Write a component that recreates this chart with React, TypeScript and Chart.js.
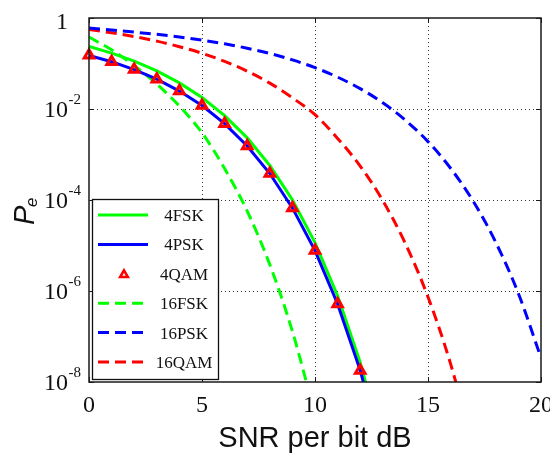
import React, { useEffect, useRef } from "react";
import { Chart, registerables } from "chart.js";

Chart.register(...registerables);

// SNR per bit (dB) sample points
const snr4 = [0, 1, 2, 3, 4, 5, 6, 7, 8, 9, 10, 11, 12, 13];
const snr4qam = [0, 1, 2, 3, 4, 5, 6, 7, 8, 9, 10, 11, 12];
const snr16fsk = [0, 1, 2, 3, 4, 5, 6, 7, 8, 9, 10];
const snr16psk = [0, 1, 2, 3, 4, 5, 6, 7, 8, 9, 10, 11, 12, 13, 14, 15, 16, 17, 18, 19, 20];
const snr16qam = [0, 1, 2, 3, 4, 5, 6, 7, 8, 9, 10, 11, 12, 13, 14, 15, 16, 17];

// symbol error probabilities
const pe4fsk = [0.236, 0.169, 0.1125, 0.0687, 0.0375, 0.0179, 0.00717, 0.00232, 5.73e-4, 1.01e-4, 1.16e-5, 7.8e-7, 2.7e-8, 4.0e-10];
const pe4psk = [0.151, 0.1095, 0.0736, 0.0453, 0.0248, 0.0119, 0.00477, 0.00154, 3.82e-4, 6.7e-5, 7.74e-6, 5.2e-7, 1.8e-8, 2.66e-10];
const pe4qam = [0.151, 0.1095, 0.0736, 0.0453, 0.0248, 0.0119, 0.00477, 0.00154, 3.82e-4, 6.7e-5, 7.74e-6, 5.2e-7, 1.8e-8];
const pe16fsk = [0.38, 0.2, 0.09, 0.0354, 0.0116, 0.003, 4.9e-4, 5.7e-5, 3.8e-6, 1.3e-7, 1.9e-9];
const pe16psk = [0.6, 0.545, 0.49, 0.437, 0.382, 0.327, 0.271, 0.2166, 0.1658, 0.12, 0.081, 0.0502, 0.028, 0.0137, 0.00568, 0.00192, 4.98e-4, 9.4e-5, 1.17e-5, 8.8e-7, 3.4e-8];
const pe16qam = [0.557, 0.473, 0.39, 0.31, 0.234, 0.168, 0.1115, 0.0679, 0.037, 0.0176, 0.0075, 0.00226, 5.55e-4, 9.7e-5, 1.1e-5, 7.4e-7, 2.5e-8, 3.6e-10];

const seriesLabels = ["4FSK", "4PSK", "4QAM", "16FSK", "16PSK", "16QAM"];

// axis ticks
const xTickValues = [0, 5, 10, 15, 20];
const yTickExponents = [0, -2, -4, -6, -8];
const xTitle = "SNR per bit dB";
const yTitleMain = "P";
const yTitleSub = "e";

const GREEN = "#00ff00";
const BLUE = "#0000ff";
const RED = "#ff0000";
const SERIF = '"Liberation Serif", "Times New Roman", serif';
const SANS = '"Liberation Sans", Arial, sans-serif';
const DASH = [11, 6];

function pts(xs: number[], ys: number[]) {
  return ys.map((y, i) => ({ x: xs[i], y }));
}

function triangle(ctx: CanvasRenderingContext2D, x: number, y: number, r: number) {
  ctx.beginPath();
  for (let k = 0; k < 3; k++) {
    const a = (k * 2 * Math.PI) / 3;
    const px = x + Math.sin(a) * r;
    const py = y - Math.cos(a) * r;
    if (k === 0) ctx.moveTo(px, py);
    else ctx.lineTo(px, py);
  }
  ctx.closePath();
}

const decorPlugin = {
  id: "decor",
  beforeDatasetsDraw(chart: any) {
    const { ctx, chartArea: a, scales } = chart;
    const xs = scales.x;
    const ys = scales.y;
    ctx.save();
    ctx.strokeStyle = "#333";
    ctx.lineWidth = 1;
    ctx.setLineDash([1, 3]);
    xTickValues.slice(1, -1).forEach((v) => {
      const px = Math.round(xs.getPixelForValue(v)) + 0.5;
      ctx.beginPath();
      ctx.moveTo(px, a.top);
      ctx.lineTo(px, a.bottom);
      ctx.stroke();
    });
    yTickExponents.slice(1, -1).forEach((e) => {
      const py = Math.round(ys.getPixelForValue(Math.pow(10, e))) + 0.5;
      ctx.beginPath();
      ctx.moveTo(a.left, py);
      ctx.lineTo(a.right, py);
      ctx.stroke();
    });
    ctx.restore();
  },
  afterDatasetsDraw(chart: any) {
    const { ctx, chartArea: a, scales } = chart;
    const xs = scales.x;
    const ys = scales.y;
    ctx.save();
    ctx.setLineDash([]);

    // frame
    ctx.strokeStyle = "#1a1a1a";
    ctx.lineWidth = 1.5;
    ctx.strokeRect(a.left, a.top, a.right - a.left, a.bottom - a.top);

    // tick marks (inside)
    ctx.lineWidth = 1;
    const tl = 5;
    xTickValues.forEach((v) => {
      const px = Math.round(xs.getPixelForValue(v)) + 0.5;
      ctx.beginPath();
      ctx.moveTo(px, a.bottom);
      ctx.lineTo(px, a.bottom - tl);
      ctx.moveTo(px, a.top);
      ctx.lineTo(px, a.top + tl);
      ctx.stroke();
    });
    yTickExponents.forEach((e) => {
      const py = Math.round(ys.getPixelForValue(Math.pow(10, e))) + 0.5;
      ctx.beginPath();
      ctx.moveTo(a.left, py);
      ctx.lineTo(a.left + tl, py);
      ctx.moveTo(a.right, py);
      ctx.lineTo(a.right - tl, py);
      ctx.stroke();
    });

    // x tick labels
    ctx.fillStyle = "#111";
    ctx.font = `24px ${SERIF}`;
    ctx.textAlign = "center";
    ctx.textBaseline = "alphabetic";
    xTickValues.forEach((v) => {
      const px = xs.getPixelForValue(v);
      ctx.fillText(String(v), px, a.bottom + 29.5);
    });

    // y tick labels
    const labelRight = a.left - 21;
    yTickExponents.forEach((e) => {
      const py = ys.getPixelForValue(Math.pow(10, e));
      ctx.textAlign = "right";
      ctx.font = `24px ${SERIF}`;
      if (e === 0) {
        ctx.fillText("1", labelRight, py + 10.5);
      } else {
        ctx.fillText("10", labelRight, py + 8.3);
        ctx.textAlign = "left";
        ctx.font = `15px ${SERIF}`;
        ctx.fillText(String(e), labelRight + 0.5, py - 5);
      }
    });

    // x title
    ctx.font = `29px ${SANS}`;
    ctx.textAlign = "center";
    ctx.fillStyle = "#111";
    ctx.fillText(xTitle, (a.left + a.right) / 2, 446.5);

    // y title (rotated)
    ctx.save();
    ctx.translate(34, 214);
    ctx.rotate(-Math.PI / 2);
    ctx.textAlign = "left";
    ctx.font = `italic 29px ${SANS}`;
    ctx.fillText(yTitleMain, -11, 0);
    ctx.font = `italic 17px ${SANS}`;
    ctx.fillText(yTitleSub, 7, 3);
    ctx.restore();

    // legend
    const bx = 92.5, by = 199.5, bw = 126, bh = 180;
    ctx.fillStyle = "#fff";
    ctx.fillRect(bx, by, bw, bh);
    ctx.strokeStyle = "#111";
    ctx.lineWidth = 1.3;
    ctx.strokeRect(bx, by, bw, bh);
    chart.data.datasets.forEach((ds: any, i: number) => {
      const cy = 215 + 29.4 * i;
      if (ds.showLine === false) {
        ctx.setLineDash([]);
        ctx.strokeStyle = ds.pointBorderColor;
        ctx.lineWidth = 2.5;
        triangle(ctx, 124, cy + 1, 4.5);
        ctx.stroke();
      } else {
        ctx.setLineDash(ds.borderDash || []);
        ctx.strokeStyle = ds.borderColor;
        ctx.lineWidth = ds.borderWidth;
        ctx.beginPath();
        ctx.moveTo(98, cy);
        ctx.lineTo(148, cy);
        ctx.stroke();
      }
      ctx.setLineDash([]);
      ctx.fillStyle = "#111";
      ctx.font = `17px ${SERIF}`;
      ctx.textAlign = "center";
      ctx.textBaseline = "alphabetic";
      ctx.fillText(ds.label, 184, cy + 6);
    });
    ctx.restore();
  },
};

export default function App() {
  const ref = useRef<HTMLCanvasElement>(null);
  useEffect(() => {
    document.body.style.margin = "0";
    const canvas = ref.current!;
    const chart = new Chart(canvas, {
      type: "line",
      data: {
        datasets: [
          {
            label: seriesLabels[0],
            data: pts(snr4, pe4fsk),
            borderColor: GREEN,
            borderWidth: 3,
            pointRadius: 0,
            tension: 0,
            order: 2,
          },
          {
            label: seriesLabels[1],
            data: pts(snr4, pe4psk),
            borderColor: BLUE,
            borderWidth: 3,
            pointRadius: 0,
            tension: 0,
            order: 1,
          },
          {
            label: seriesLabels[2],
            data: pts(snr4qam, pe4qam),
            showLine: false,
            pointStyle: "triangle",
            pointRadius: 5.5,
            pointBorderColor: RED,
            pointBackgroundColor: "rgba(255,255,255,0)",
            pointBorderWidth: 3,
            borderColor: RED,
            clip: false,
            order: 0,
          },
          {
            label: seriesLabels[3],
            data: pts(snr16fsk, pe16fsk),
            borderColor: GREEN,
            borderWidth: 3,
            borderDash: DASH,
            pointRadius: 0,
            cubicInterpolationMode: "monotone",
            order: 3,
          },
          {
            label: seriesLabels[4],
            data: pts(snr16psk, pe16psk),
            borderColor: BLUE,
            borderWidth: 3,
            borderDash: DASH,
            pointRadius: 0,
            cubicInterpolationMode: "monotone",
            order: 4,
          },
          {
            label: seriesLabels[5],
            data: pts(snr16qam, pe16qam),
            borderColor: RED,
            borderWidth: 3,
            borderDash: DASH,
            pointRadius: 0,
            cubicInterpolationMode: "monotone",
            order: 5,
          },
        ] as any,
      },
      options: {
        responsive: false,
        animation: false,
        devicePixelRatio: 1,
        layout: { padding: { left: 89, right: 9, top: 18, bottom: 74 } },
        scales: {
          x: { type: "linear", min: 0, max: 20, display: false },
          y: { type: "logarithmic", min: 1e-8, max: 1, display: false },
        },
        plugins: {
          legend: { display: false },
          tooltip: { enabled: false },
        },
        events: [],
      },
      plugins: [decorPlugin],
    });
    return () => chart.destroy();
  }, []);
  return (
    <div style={{ width: 550, height: 456 }}>
      <canvas ref={ref} width={550} height={456} style={{ display: "block" }} />
    </div>
  );
}
